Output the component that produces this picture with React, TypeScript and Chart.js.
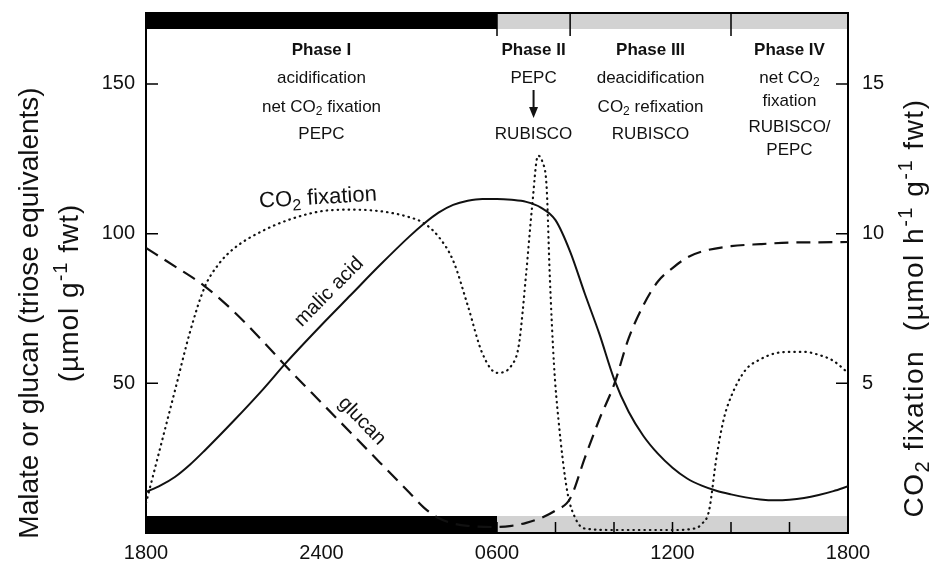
import { useEffect, useRef } from "react";
import { Chart, registerables } from "chart.js";

Chart.register(...registerables);

const FONT = "'Liberation Sans', Arial, Helvetica, sans-serif";

// x in hours after 1800 (0 = 1800, 24 = 1800 next day)
const xTickHours = [0, 6, 12, 18, 24];
const xTickLabels = ["1800", "2400", "0600", "1200", "1800"];
const minorTickHours = [2, 4, 6, 8, 10, 12, 14, 16, 18, 20, 22];
const leftTicks = [50, 100, 150];
const rightTicks = [5, 10, 15];
const leftMax = 173.7;
const rightMax = 17.37;

const darkPeriod = [0, 12];
const phaseBounds = [0, 12, 14.5, 20, 24];
const phaseTitles = ["Phase I", "Phase II", "Phase III", "Phase IV"];
const phaseLines = [
  ["acidification", "net CO_{2} fixation", "PEPC"],
  ["PEPC", "", "RUBISCO"],
  ["deacidification", "CO_{2} refixation", "RUBISCO"],
  ["net CO_{2}", "fixation", "RUBISCO/", "PEPC"],
];

const malicHours = [0, 0.5, 1, 1.5, 2, 3, 4, 4.8, 6, 7, 8, 9, 9.5, 10, 10.5, 11, 11.5, 12, 12.5, 13, 13.5, 14, 14.5, 15, 15.5, 16, 16.5, 17, 17.5, 18, 18.5, 19, 19.5, 20, 20.5, 21, 21.5, 22, 22.5, 23, 23.5, 24];
const malicValues = [13.7, 15.9, 18.8, 22.8, 27.5, 37.5, 48, 57, 69.5, 79.5, 89.5, 99, 103.3, 107, 109.6, 111, 111.6, 111.6, 111.3, 110.6, 108.7, 104.5, 94, 80, 66.5, 51.5, 40.5, 32.5, 26.5, 21.8, 18.2, 15.8, 14.1, 12.9, 11.9, 11.2, 10.9, 11.1, 11.7, 12.7, 14, 15.6];

const glucanHours = [0, 1, 2, 3, 4, 5, 6, 7, 8, 9, 9.5, 10, 10.5, 11, 12, 12.5, 13, 13.5, 14, 14.5, 15, 15.5, 16, 16.5, 17, 17.5, 18, 18.5, 19, 20, 21, 22, 23, 24];
const glucanValues = [95.2, 89, 82.5, 74, 64, 53.5, 43.5, 33.5, 23.5, 13.5, 8.5, 5, 3.2, 2.4, 2, 2.4, 3.4, 5, 7.5, 11.5, 25, 38, 49.5, 65, 76, 84, 88.5, 92, 94, 95.8, 96.5, 97, 97.1, 97.2];

const co2Hours = [0, 0.5, 1, 1.5, 2, 2.5, 3, 4, 5, 6, 7, 8, 9, 9.5, 10, 10.5, 11, 11.5, 12, 12.5, 12.75, 13, 13.2, 13.4, 13.55, 13.7, 13.8, 13.95, 14.1, 14.4, 14.7, 15, 16, 17, 18, 18.75, 19, 19.25, 19.5, 19.75, 20, 20.5, 21, 21.5, 22, 22.5, 23, 23.5, 24];
const co2Values = [1.0, 2.9, 4.8, 6.7, 8.2, 9.0, 9.5, 10.1, 10.5, 10.75, 10.8, 10.75, 10.55, 10.35, 9.9, 9.1, 7.6, 6.0, 5.35, 5.6, 6.3, 8.7, 10.9, 12.6, 12.4, 11.5, 8.7, 5.6, 3.8, 1.4, 0.45, 0.15, 0.1, 0.1, 0.1, 0.15, 0.3, 0.75, 2.5, 3.8, 4.55, 5.45, 5.8, 6.0, 6.05, 6.05, 5.95, 5.75, 5.35];

type Seg = { t: string; k: "n" | "sub" | "sup" };
function parseRich(s: string): Seg[] {
  const out: Seg[] = [];
  const re = /([_^])\{([^}]*)\}/g;
  let last = 0;
  let m: RegExpExecArray | null;
  while ((m = re.exec(s))) {
    if (m.index > last) out.push({ t: s.slice(last, m.index), k: "n" });
    out.push({ t: m[2], k: m[1] === "_" ? "sub" : "sup" });
    last = re.lastIndex;
  }
  if (last < s.length) out.push({ t: s.slice(last), k: "n" });
  return out;
}

function drawRich(ctx: CanvasRenderingContext2D, s: string, x: number, y: number, size: number, bold = false, rot = 0, spacing = 0) {
  const segs = parseRich(s);
  const w = bold ? "bold " : "";
  const fontFor = (k: string) => `${w}${k === "n" ? size : Math.round(size * 0.72)}px ${FONT}`;
  const c: any = ctx;
  ctx.save();
  c.letterSpacing = `${spacing}px`;
  let total = 0;
  const widths = segs.map((sg) => {
    ctx.font = fontFor(sg.k);
    const ww = ctx.measureText(sg.t).width;
    total += ww;
    return ww;
  });
  ctx.translate(x, y);
  if (rot) ctx.rotate(rot);
  ctx.textBaseline = "middle";
  ctx.textAlign = "left";
  ctx.fillStyle = "#111";
  let cx = -total / 2;
  segs.forEach((sg, i) => {
    ctx.font = fontFor(sg.k);
    const dy = sg.k === "sub" ? size * 0.3 : sg.k === "sup" ? -size * 0.3 : 0;
    ctx.fillText(sg.t, cx, dy);
    cx += widths[i];
  });
  ctx.restore();
}

const decorPlugin = {
  id: "decor",
  beforeDatasetsDraw(chart: any) {
    const { ctx, chartArea: a, scales } = chart;
    const xs = scales.x;
    const topH = 16;
    const botH = 17;
    ctx.save();
    ctx.fillStyle = "#d2d2d2";
    ctx.fillRect(a.left, a.top, a.right - a.left, topH);
    ctx.fillRect(a.left, a.bottom - botH, a.right - a.left, botH);
    const d0 = xs.getPixelForValue(darkPeriod[0]);
    const d1 = xs.getPixelForValue(darkPeriod[1]);
    ctx.fillStyle = "#000";
    ctx.fillRect(d0, a.top, d1 - d0, topH);
    ctx.fillRect(d0, a.bottom - botH, d1 - d0, botH);
    ctx.strokeStyle = "#000";
    ctx.lineWidth = 1.5;
    ctx.beginPath();
    minorTickHours.forEach((h) => {
      const px = xs.getPixelForValue(h);
      ctx.moveTo(px, a.bottom);
      ctx.lineTo(px, a.bottom - 11);
    });
    phaseBounds.slice(1, -1).forEach((h) => {
      const px = xs.getPixelForValue(h);
      ctx.moveTo(px, a.top);
      ctx.lineTo(px, a.top + 23);
    });
    leftTicks.forEach((v) => {
      const py = scales.y.getPixelForValue(v);
      ctx.moveTo(a.left, py);
      ctx.lineTo(a.left + 12, py);
    });
    rightTicks.forEach((v) => {
      const py = scales.y1.getPixelForValue(v);
      ctx.moveTo(a.right, py);
      ctx.lineTo(a.right - 12, py);
    });
    ctx.stroke();
    ctx.lineWidth = 2;
    ctx.strokeRect(a.left, a.top, a.right - a.left, a.bottom - a.top);
    ctx.restore();
  },
  afterDatasetsDraw(chart: any) {
    const { ctx, chartArea: a, scales } = chart;
    const xs = scales.x;
    ctx.save();
    // phase texts
    phaseTitles.forEach((title, i) => {
      const cx = xs.getPixelForValue((phaseBounds[i] + phaseBounds[i + 1]) / 2);
      drawRich(ctx, title, cx, a.top + 37, 17, true);
      const lines = phaseLines[i];
      const offs = lines.length === 4 ? [65, 88, 114, 137] : [65, 94, 121];
      lines.forEach((ln, j) => {
        if (ln) drawRich(ctx, ln, cx, a.top + offs[j], 17);
      });
      if (i === 1) {
        ctx.strokeStyle = "#111";
        ctx.fillStyle = "#111";
        ctx.lineWidth = 2;
        ctx.beginPath();
        ctx.moveTo(cx, a.top + 77);
        ctx.lineTo(cx, a.top + 96);
        ctx.stroke();
        ctx.beginPath();
        ctx.moveTo(cx - 4.5, a.top + 94);
        ctx.lineTo(cx + 4.5, a.top + 94);
        ctx.lineTo(cx, a.top + 105);
        ctx.closePath();
        ctx.fill();
      }
    });
    // curve labels
    drawRich(ctx, "CO_{2} fixation", 318, 198, 22, false, -0.06);
    drawRich(ctx, "malic acid", 329, 292, 20, false, -0.79);
    drawRich(ctx, "glucan", 362, 421, 20, false, 0.8);
    // axis titles
    drawRich(ctx, "Malate or glucan (triose equivalents)", 30, 313, 28, false, -Math.PI / 2);
    drawRich(ctx, "(µmol g^{-1} fwt)", 70, 293, 28, false, -Math.PI / 2, 1);
    drawRich(ctx, "CO_{2} fixation  (µmol h^{-1} g^{-1} fwt)", 915, 308, 28, false, -Math.PI / 2, 1.5);
    ctx.restore();
  },
};

export default function App() {
  const ref = useRef<HTMLCanvasElement | null>(null);
  useEffect(() => {
    if (!ref.current) return;
    const pts = (hs: number[], vs: number[]) => hs.map((h, i) => ({ x: h, y: vs[i] }));
    const tickFont = { family: FONT, size: 20 };
    const noPad = (s: any) => {
      s.paddingTop = 0;
      s.paddingBottom = 0;
    };
    const chart = new Chart(ref.current, {
      type: "line",
      data: {
        datasets: [
          {
            label: "malic acid",
            data: pts(malicHours, malicValues),
            yAxisID: "y",
            borderColor: "#111",
            borderWidth: 2,
            pointRadius: 0,
            cubicInterpolationMode: "monotone",
            fill: false,
          },
          {
            label: "glucan",
            data: pts(glucanHours, glucanValues),
            yAxisID: "y",
            borderColor: "#111",
            borderWidth: 2.2,
            borderDash: [14, 8],
            pointRadius: 0,
            cubicInterpolationMode: "monotone",
            fill: false,
          },
          {
            label: "CO2 fixation",
            data: pts(co2Hours, co2Values),
            yAxisID: "y1",
            borderColor: "#111",
            borderWidth: 2.2,
            borderDash: [0.5, 5],
            borderCapStyle: "round",
            pointRadius: 0,
            cubicInterpolationMode: "monotone",
            fill: false,
          },
        ],
      },
      options: {
        responsive: false,
        animation: false,
        devicePixelRatio: 1,
        layout: { padding: { top: 13, left: 0, right: 0, bottom: 0 } },
        plugins: { legend: { display: false }, tooltip: { enabled: false } },
        scales: {
          x: {
            type: "linear",
            min: 0,
            max: 24,
            afterBuildTicks: (s: any) => {
              s.ticks = xTickHours.map((v) => ({ value: v }));
            },
            afterFit: (s: any) => {
              s.height = 29;
              s.paddingLeft = 0;
              s.paddingRight = 0;
            },
            ticks: {
              callback: (v: any) => xTickLabels[xTickHours.indexOf(Number(v))] ?? "",
              font: tickFont,
              color: "#111",
              padding: 8,
              maxRotation: 0,
              autoSkip: false,
            },
            grid: { display: false, drawTicks: false },
            border: { display: false },
          },
          y: {
            type: "linear",
            position: "left",
            min: 0,
            max: leftMax,
            afterBuildTicks: (s: any) => {
              s.ticks = leftTicks.map((v) => ({ value: v }));
            },
            afterFit: (s: any) => {
              s.width = 146;
              noPad(s);
            },
            ticks: { font: tickFont, color: "#111", padding: 11 },
            grid: { display: false, drawTicks: false },
            border: { display: false },
          },
          y1: {
            type: "linear",
            position: "right",
            min: 0,
            max: rightMax,
            afterBuildTicks: (s: any) => {
              s.ticks = rightTicks.map((v) => ({ value: v }));
            },
            afterFit: (s: any) => {
              s.width = 83;
              noPad(s);
            },
            ticks: { font: tickFont, color: "#111", padding: 14 },
            grid: { display: false, drawTicks: false },
            border: { display: false },
          },
        },
      },
      plugins: [decorPlugin],
    } as any);
    return () => chart.destroy();
  }, []);
  return (
    <div style={{ position: "absolute", left: 0, top: 0, width: 931, height: 562, background: "#fff" }}>
      <canvas ref={ref} width={931} height={562} style={{ width: 931, height: 562, display: "block" }} />
    </div>
  );
}
